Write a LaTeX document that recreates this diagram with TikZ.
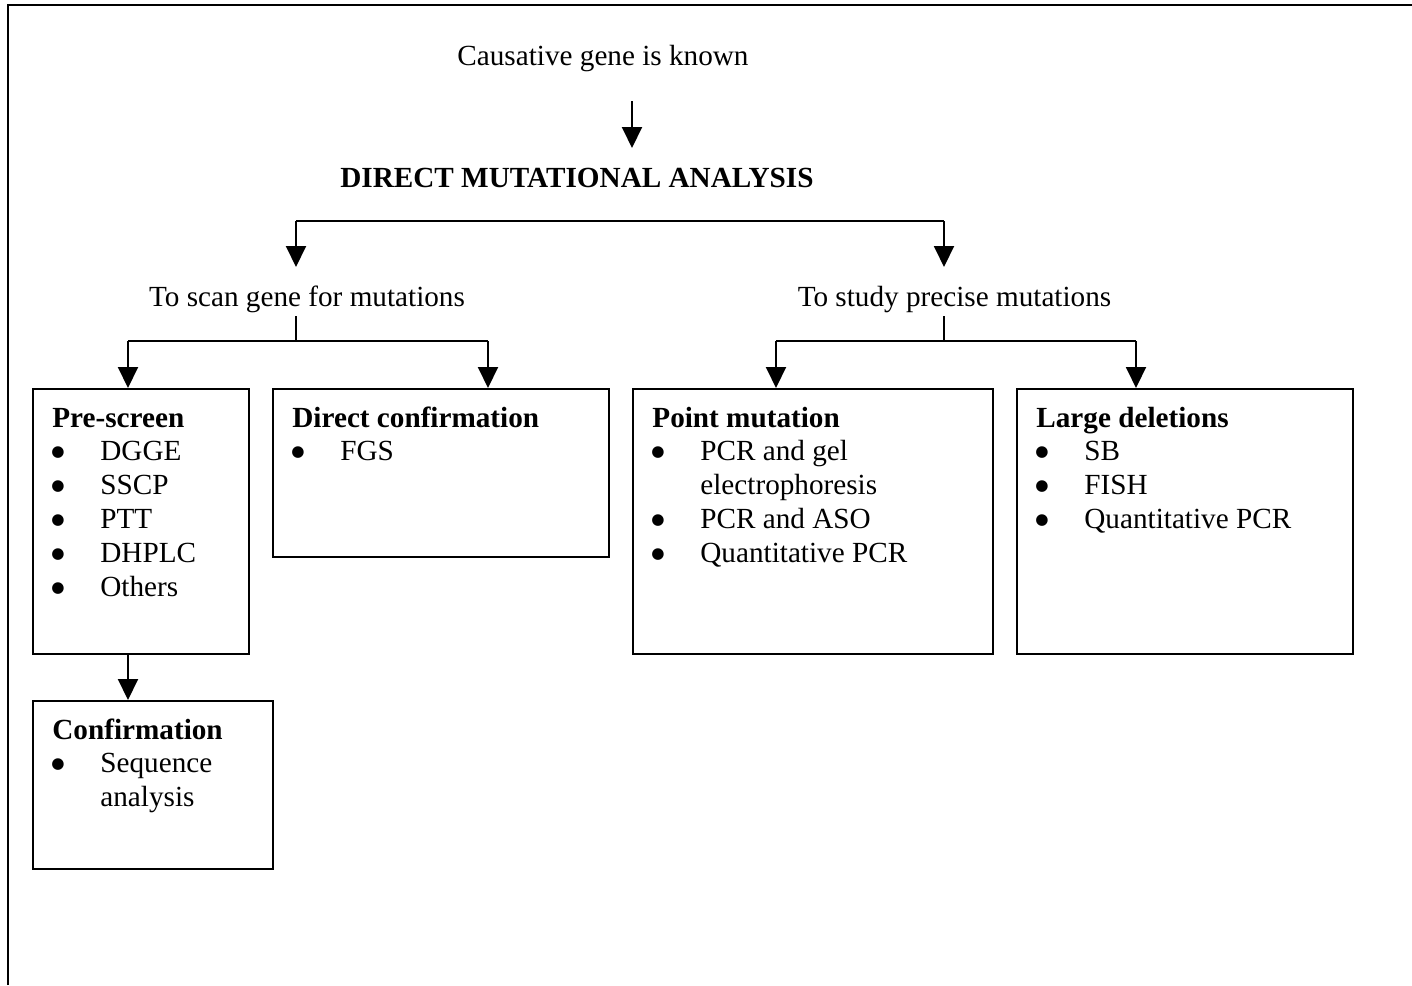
\documentclass[tikz,border=0pt]{standalone}
\usepackage{fontspec}
\setmainfont{Liberation Serif}
\newfontfamily\bulfont{DejaVu Sans}
\usetikzlibrary{arrows.meta}
\newcommand\dfont{\fontsize{14.6pt}{17pt}\selectfont}
\newcommand\bigbul{{\bulfont\fontsize{7.6pt}{8pt}\selectfont ●}}
\tikzset{
  lbl/.style={inner sep=0pt, anchor=base},
  ttl/.style={inner sep=0pt, anchor=base west, font=\dfont\bfseries},
  itm/.style={inner sep=0pt, anchor=base west},
  bul/.style={inner sep=0pt, anchor=base, yshift=2pt},
  boxnode/.style={draw, line width=1pt, inner sep=0pt, anchor=north west},
  conn/.style={line width=1pt},
  arr/.style={conn, -{Triangle[width=10pt,length=10.5pt]}},
  frameline/.style={line width=1.4pt}
}
\begin{document}
\begin{tikzpicture}[x=0.5pt, y=-0.5pt, font=\dfont]
\useasboundingbox (0,0) rectangle (1412,985);
% outer frame (top and left edges visible)
\coordinate (fbl) at (8,985);
\coordinate (ftl) at (8,5);
\coordinate (ftr) at (1412,5);
\draw[frameline] (fbl) -- (ftl) -- (ftr);

% top labels
\node[lbl] (cause) at (603,65) {Causative gene is known};
\node[lbl, font=\dfont\bfseries] (dma) at (577,187) {DIRECT MUTATIONAL ANALYSIS};
\node[lbl] (scan) at (307,306) {To scan gene for mutations};
\node[lbl] (study) at (954.5,306) {To study precise mutations};

% boxes
\node[boxnode, minimum width=108pt, minimum height=132.5pt] (pre) at (32,388) {};
\node[boxnode, minimum width=168pt, minimum height=84pt] (dc) at (272,388) {};
\node[boxnode, minimum width=180pt, minimum height=132.5pt] (pm) at (632,388) {};
\node[boxnode, minimum width=168pt, minimum height=132.5pt] (ld) at (1016,388) {};
\node[boxnode, minimum width=120pt, minimum height=84pt] (conf) at (32,700) {};

% Pre-screen content
\node[ttl] (preT) at (52,427) {Pre-screen};
\foreach \t [count=\i from 0] in {DGGE,SSCP,PTT,DHPLC,Others}{
  \node[bul] (preB\i) at (58,460+34*\i) {\bigbul};
  \node[itm] (preI\i) at (100,460+34*\i) {\t};
}
% Direct confirmation content
\node[ttl] (dcT) at (292,427) {Direct confirmation};
\node[bul] (dcB0) at (298,460) {\bigbul};
\node[itm] (dcI0) at (340,460) {FGS};
% Point mutation content
\node[ttl] (pmT) at (652,427) {Point mutation};
\node[bul] (pmB0) at (658,460) {\bigbul};
\node[itm] (pmI0) at (700,460) {PCR and gel};
\node[itm] (pmI0b) at (700,494) {electrophoresis};
\node[bul] (pmB1) at (658,528) {\bigbul};
\node[itm] (pmI1) at (700,528) {PCR and ASO};
\node[bul] (pmB2) at (658,562) {\bigbul};
\node[itm] (pmI2) at (700,562) {Quantitative PCR};
% Large deletions content
\node[ttl] (ldT) at (1036,427) {Large deletions};
\foreach \t [count=\i from 0] in {SB,FISH,Quantitative PCR}{
  \node[bul] (ldB\i) at (1042,460+34*\i) {\bigbul};
  \node[itm] (ldI\i) at (1084,460+34*\i) {\t};
}
% Confirmation content
\node[ttl] (confT) at (52,739) {Confirmation};
\node[bul] (confB0) at (58,772) {\bigbul};
\node[itm] (confI0) at (100,772) {Sequence};
\node[itm] (confI0b) at (100,806) {analysis};

% connectors
\coordinate (a0) at (632,101);
\coordinate (a1) at (632,148);
\draw[arr] (a0) -- (a1);

\coordinate (scantip) at (296,267);
\coordinate (studytip) at (944,267);
\coordinate (hl) at (296,221);
\coordinate (hr) at (944,221);
\draw[arr] (hl) -- (scantip);
\draw[arr] (hr) -- (studytip);
\draw[conn] (hl) -- (hr);

\coordinate (sj) at (296,341);
\coordinate (sl) at (128,341);
\coordinate (sr) at (488,341);
\draw[conn] (scan.base -| sj) ++(0,10) -- (sj);
\draw[conn] (sl) -- (sr);
\draw[arr] (sl) -- (sl |- pre.north);
\draw[arr] (sr) -- (sr |- dc.north);

\coordinate (tj) at (944,341);
\coordinate (tl) at (776,341);
\coordinate (tr) at (1136,341);
\draw[conn] (study.base -| tj) ++(0,10) -- (tj);
\draw[conn] (tl) -- (tr);
\draw[arr] (tl) -- (tl |- pm.north);
\draw[arr] (tr) -- (tr |- ld.north);

\draw[arr] (pre.south -| sl) -- (conf.north -| sl);
\end{tikzpicture}
\end{document}
